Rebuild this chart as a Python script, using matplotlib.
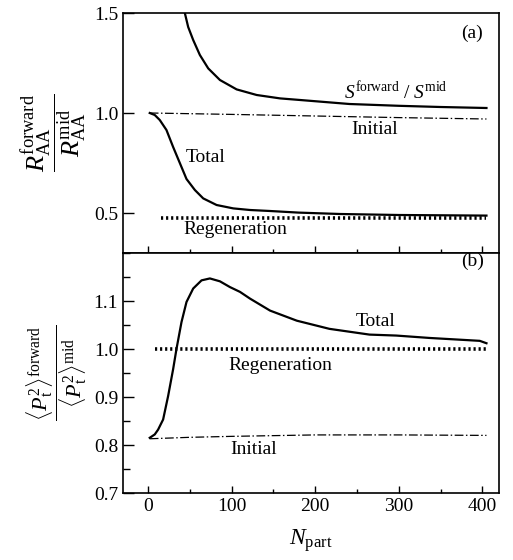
"""
R_AA and <pt^2> ratios, forward / mid rapidity
"""
import matplotlib
matplotlib.use('Agg')
import matplotlib.pyplot as plt
from matplotlib.ticker import MultipleLocator, FixedLocator, FormatStrFormatter

plt.rcParams['font.family'] = 'Liberation Serif'
plt.rcParams['mathtext.fontset'] = 'custom'
plt.rcParams['mathtext.rm'] = 'Liberation Serif'
plt.rcParams['mathtext.it'] = 'Liberation Serif:italic'

## panel (a): R_AA ratio
s_npart = [44, 48, 54, 62, 72, 86, 106, 130, 158, 182, 241, 300, 350, 405]
s_ratio = [1.50, 1.43, 1.365, 1.29, 1.223, 1.165, 1.118, 1.09, 1.073, 1.065,
           1.045, 1.036, 1.03, 1.025]

init_a_npart = [2, 100, 200, 300, 405]
init_a = [1.0, 0.993, 0.985, 0.977, 0.97]

tot_a_npart = [2, 8, 14, 22, 30, 38, 46, 56, 66, 82, 102, 122, 146, 180, 230, 300, 405]
tot_a = [1.0, 0.99, 0.965, 0.915, 0.83, 0.75, 0.67, 0.615, 0.573, 0.54, 0.523,
         0.515, 0.51, 0.502, 0.495, 0.49, 0.487]

reg_a_npart = [16, 405]
reg_a = [0.477, 0.477]

## panel (b): <pt^2> ratio
tot_b_npart = [2, 8, 12, 18, 24, 30, 34, 40, 46, 54, 64, 74, 86, 98, 110, 122,
               146, 178, 217, 265, 297, 337, 377, 397, 405]
tot_b = [0.815, 0.822, 0.832, 0.853, 0.902, 0.958, 1.0, 1.056, 1.098, 1.126, 1.143,
         1.147, 1.141, 1.129, 1.119, 1.105, 1.08, 1.059, 1.042, 1.03, 1.028, 1.023,
         1.019, 1.017, 1.012]

reg_b_npart = [8, 405]
reg_b = [1.0, 1.0]

init_b_npart = [2, 50, 100, 200, 300, 405]
init_b = [0.813, 0.816, 0.818, 0.821, 0.821, 0.82]

fig = plt.figure(figsize=(5.13, 5.6), dpi=100)
ax1 = fig.add_axes([123/513, 1-253/560, 376/513, 240/560])
ax2 = fig.add_axes([123/513, 1-493/560, 376/513, 240/560], sharex=ax1)

lw = 1.6
dashdot = (0, (7, 2, 1.2, 2))
dots = (0, (0.6, 0.8))
ax1.plot(s_npart, s_ratio, color='k', lw=lw)
ax1.plot(init_a_npart, init_a, color='k', lw=0.9, linestyle=dashdot)
ax1.plot(tot_a_npart, tot_a, color='k', lw=lw)
ax1.plot(reg_a_npart, reg_a, color='k', lw=2.6, linestyle=dots)

ax2.plot(tot_b_npart, tot_b, color='k', lw=lw)
ax2.plot(reg_b_npart, reg_b, color='k', lw=2.6, linestyle=dots)
ax2.plot(init_b_npart, init_b, color='k', lw=0.9, linestyle=dashdot)

fs = 14
ax1.text(69, 0.78, 'Total', fontsize=fs, ha='center', va='center')
ax1.text(104, 0.42, 'Regeneration', fontsize=fs, ha='center', va='center')
ax1.text(271, 0.915, 'Initial', fontsize=fs, ha='center', va='center')
ax1.text(297, 1.105, r'$S^{\rm forward}\ /\ S^{\rm mid}$', fontsize=fs, ha='center', va='center')
ax1.text(388, 1.40, '(a)', fontsize=fs, ha='center', va='center')

ax2.text(272, 1.058, 'Total', fontsize=fs, ha='center', va='center')
ax2.text(158, 0.966, 'Regeneration', fontsize=fs, ha='center', va='center')
ax2.text(126, 0.79, 'Initial', fontsize=fs, ha='center', va='center')
ax2.text(388, 1.182, '(b)', fontsize=fs, ha='center', va='center')

ax1.set_xlim(-30, 420)
ax1.set_ylim(0.3, 1.5)
ax2.set_ylim(0.7, 1.2)

ax1.yaxis.set_major_locator(FixedLocator([0.5, 1.0, 1.5]))
ax2.yaxis.set_major_locator(FixedLocator([0.7, 0.8, 0.9, 1.0, 1.1]))
ax2.yaxis.set_minor_locator(MultipleLocator(0.05))
ax2.xaxis.set_major_locator(MultipleLocator(100))
ax2.xaxis.set_minor_locator(MultipleLocator(50))

for ax in (ax1, ax2):
    ax.tick_params(which='both', direction='in', labelsize=14, width=1.0,
                   top=False, right=False)
    ax.tick_params(axis='y', which='major', length=8)
    ax.tick_params(axis='y', which='minor', length=5)
    ax.tick_params(axis='x', which='major', length=5)
    ax.tick_params(axis='x', which='minor', length=3)
    ax.yaxis.set_major_formatter(FormatStrFormatter('%.1f'))
    for sp in ax.spines.values():
        sp.set_linewidth(1.2)

ax1.tick_params(axis='x', labelbottom=False)

ax1.set_ylabel(r'$\dfrac{R_{\rm AA}^{\rm forward}}{R_{\rm AA}^{\rm mid}}$', fontsize=19)
ax2.set_ylabel(r'$\dfrac{\langle P_{\rm t}^{2}\rangle^{\rm forward}}{\langle P_{\rm t}^{2}\rangle^{\rm mid}}$',
               fontsize=16)
ax1.yaxis.set_label_coords(-0.09, 0.5)
ax2.yaxis.set_label_coords(-0.09, 0.5)
ax2.set_xlabel(r'$N_{\rm part}$', fontsize=17, labelpad=9)

fig.savefig('out.png', dpi=100)
